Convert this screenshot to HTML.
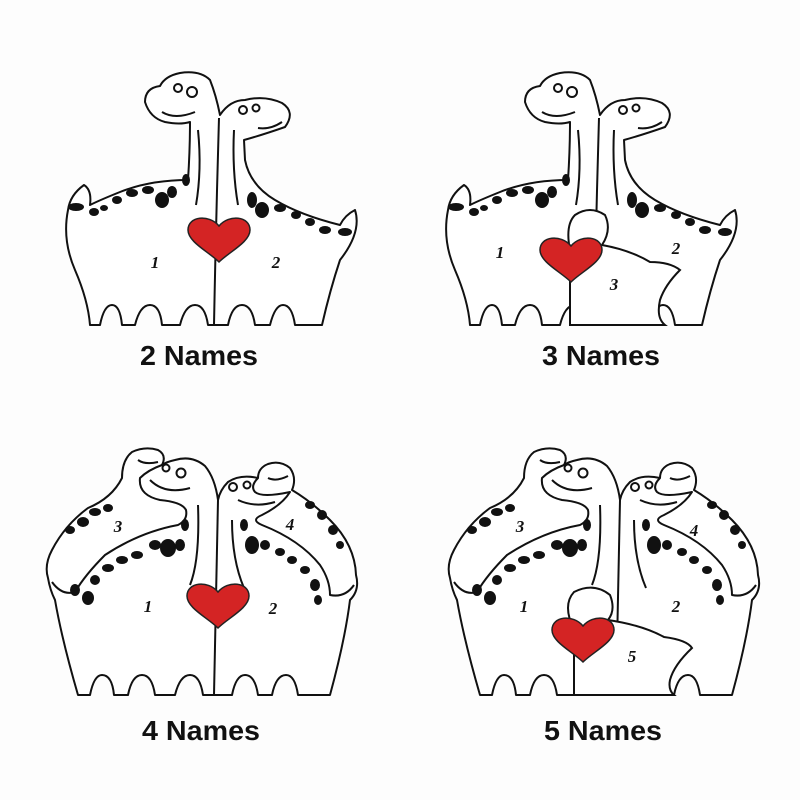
<!DOCTYPE html>
<html><head><style>
html,body{margin:0;padding:0;background:#fdfdfd;}
svg{display:block}
text.t{font-family:"Liberation Sans",sans-serif;font-weight:bold;font-size:28px;fill:#111;text-anchor:middle}
text.n{font-family:"Liberation Serif",serif;font-style:italic;font-weight:bold;font-size:17px;fill:#111;text-anchor:middle}
</style></head><body>
<svg width="800" height="800" viewBox="0 0 800 800">
<defs>
<g id="pair" fill="none" stroke="#111" stroke-width="2" stroke-linejoin="round">
<path fill="#fff" d="M 90,325 L 100,325 Q 104,305 112,305 Q 120,305 122,325 L 135,325 Q 140,305 150,305 Q 160,305 162,325 L 180,325 Q 185,305 195,305 Q 205,305 208,325 L 228,325 Q 232,305 242,305 Q 252,305 255,325 L 270,325 Q 275,305 283,305 Q 292,305 295,325 L 322,325 Q 330,290 340,260 Q 362,232 355,210 Q 345,215 340,225 Q 300,215 275,200 Q 250,185 245,160 L 244,140 Q 262,135 285,127 Q 296,112 282,103 Q 265,95 245,100 Q 230,100 220,115 Q 216,95 210,80 Q 200,70 180,73 Q 165,76 160,86 Q 145,88 145,102 Q 150,118 165,122 Q 180,125 190,122 Q 190,150 188,180 Q 150,180 120,192 Q 100,200 90,205 Q 92,190 84,185 Q 70,195 68,210 Q 62,240 75,270 Q 88,300 90,325 Z"/>
<path d="M219,118 Q 216,220 214,325"/>
<path d="M198,130 Q 202,170 196,205"/>
<path d="M234,130 Q 232,170 238,205"/>
<path d="M162,112 Q 175,120 195,112"/>
<path d="M258,128 Q 270,130 282,122"/>
<circle cx="178" cy="88" r="4"/><circle cx="192" cy="92" r="5"/>
<circle cx="243" cy="110" r="4"/><circle cx="256" cy="108" r="3.5"/>
</g>
<g id="spotsL" fill="#111">
<ellipse cx="76" cy="207" rx="8" ry="4"/><ellipse cx="94" cy="212" rx="5" ry="4"/><ellipse cx="104" cy="208" rx="4" ry="3"/>
<ellipse cx="117" cy="200" rx="5" ry="4"/><ellipse cx="132" cy="193" rx="6" ry="4"/><ellipse cx="148" cy="190" rx="6" ry="4"/>
<ellipse cx="162" cy="200" rx="7" ry="8"/><ellipse cx="172" cy="192" rx="5" ry="6"/><ellipse cx="186" cy="180" rx="4" ry="6"/>
</g>
<g id="spotsR" fill="#111">
<ellipse cx="252" cy="200" rx="5" ry="8"/><ellipse cx="262" cy="210" rx="7" ry="8"/><ellipse cx="280" cy="208" rx="6" ry="4"/>
<ellipse cx="296" cy="215" rx="5" ry="4"/><ellipse cx="310" cy="222" rx="5" ry="4"/><ellipse cx="325" cy="230" rx="6" ry="4"/><ellipse cx="345" cy="232" rx="7" ry="4"/>
</g>
<g id="quad" fill="none" stroke="#111" stroke-width="2" stroke-linejoin="round">
<path fill="#fff" d="M78,695 L90,695 Q 94,675 102,675 Q 112,675 114,695 L 128,695 Q 132,675 142,675 Q 152,675 155,695 L 175,695 Q 180,675 190,675 Q 200,675 203,695 L 232,695 Q 236,675 245,675 Q 255,675 258,695 L 272,695 Q 276,675 286,675 Q 295,675 298,695 L 330,695 Q 345,640 350,600 Q 360,590 356,575 Q 355,545 330,520 Q 312,502 292,490 Q 297,478 290,468 Q 280,460 268,464 Q 258,468 258,478 Q 240,474 228,482 Q 220,490 218,500 Q 215,478 205,466 Q 192,455 175,460 Q 166,462 162,465 Q 167,455 158,450 Q 145,446 132,452 Q 122,460 122,478 Q 112,498 88,508 Q 65,525 52,550 Q 44,565 48,578 Q 50,590 55,600 Q 62,640 78,695 Z"/>
<path d="M162,465 Q 148,470 140,478 Q 138,495 160,500 Q 182,502 186,510 Q 188,520 178,525 Q 140,532 105,555 Q 85,575 75,592 Q 62,596 52,582"/>
<path d="M258,478 Q 250,486 255,492 Q 262,498 290,492 Q 282,505 262,515 Q 250,520 262,525 Q 300,540 320,565 Q 330,580 330,595 Q 345,598 354,585"/>
<path d="M218,500 Q 216,600 214,695"/>
<path d="M198,505 Q 200,560 190,585"/>
<path d="M232,520 Q 232,560 244,588"/>
<path d="M150,480 Q 165,495 190,488"/>
<path d="M238,500 Q 255,508 275,502"/>
<path d="M138,460 Q 145,465 158,462"/>
<path d="M268,478 Q 276,482 288,476"/>
<circle cx="166" cy="468" r="3.5"/><circle cx="181" cy="473" r="4.5"/>
<circle cx="233" cy="487" r="4"/><circle cx="247" cy="485" r="3.5"/>
</g>
<g id="qspots" fill="#111">
<ellipse cx="75" cy="590" rx="5" ry="6"/><ellipse cx="88" cy="598" rx="6" ry="7"/><ellipse cx="95" cy="580" rx="5" ry="5"/>
<ellipse cx="108" cy="568" rx="6" ry="4"/><ellipse cx="122" cy="560" rx="6" ry="4"/><ellipse cx="137" cy="555" rx="6" ry="4"/>
<ellipse cx="155" cy="545" rx="6" ry="5"/><ellipse cx="168" cy="548" rx="8" ry="9"/><ellipse cx="180" cy="545" rx="5" ry="6"/><ellipse cx="185" cy="525" rx="4" ry="6"/>
<ellipse cx="70" cy="530" rx="5" ry="4"/><ellipse cx="83" cy="522" rx="6" ry="5"/><ellipse cx="95" cy="512" rx="6" ry="4"/><ellipse cx="108" cy="508" rx="5" ry="4"/>
<ellipse cx="244" cy="525" rx="4" ry="6"/><ellipse cx="252" cy="545" rx="7" ry="9"/><ellipse cx="265" cy="545" rx="5" ry="5"/>
<ellipse cx="280" cy="552" rx="5" ry="4"/><ellipse cx="292" cy="560" rx="5" ry="4"/><ellipse cx="305" cy="570" rx="5" ry="4"/><ellipse cx="315" cy="585" rx="5" ry="6"/><ellipse cx="318" cy="600" rx="4" ry="5"/>
<ellipse cx="310" cy="505" rx="5" ry="4"/><ellipse cx="322" cy="515" rx="5" ry="5"/><ellipse cx="333" cy="530" rx="5" ry="5"/><ellipse cx="340" cy="545" rx="4" ry="4"/>
</g>
<path id="heart" d="M0,20 C -10,10 -31,0 -31,-12 C -31,-26 -10,-28 0,-16 C 10,-28 31,-26 31,-12 C 31,0 10,10 0,20 Z" fill="#d42424" stroke="#222" stroke-width="1.5"/>
</defs>

<use href="#pair"/><use href="#spotsL"/><use href="#spotsR"/>
<use href="#heart" x="219" y="242"/>
<text class="n" x="155" y="268">1</text><text class="n" x="276" y="268">2</text>
<text class="t" x="199" y="365" textLength="118" lengthAdjust="spacingAndGlyphs">2 Names</text>

<g transform="translate(380,0)">
<use href="#pair"/><use href="#spotsL"/><use href="#spotsR"/>
<g fill="#fff" stroke="#111" stroke-width="2">
<path d="M190,325 L190,250 Q 185,225 195,215 Q 210,205 225,215 Q 232,230 222,245 Q 250,250 270,262 Q 290,262 300,270 Q 285,285 280,300 Q 276,318 285,325 Z"/>
</g>
<use href="#heart" x="191" y="262"/>
<text class="n" x="120" y="258">1</text><text class="n" x="296" y="254">2</text><text class="n" x="234" y="290">3</text>
</g>
<text class="t" x="601" y="365" textLength="118" lengthAdjust="spacingAndGlyphs">3 Names</text>

<use href="#quad"/><use href="#qspots"/>
<use href="#heart" x="218" y="608"/>
<text class="n" x="148" y="612">1</text><text class="n" x="273" y="614">2</text><text class="n" x="118" y="532">3</text><text class="n" x="290" y="530">4</text>
<text class="t" x="201" y="740" textLength="118" lengthAdjust="spacingAndGlyphs">4 Names</text>

<g transform="translate(402,0)">
<use href="#quad"/><use href="#qspots"/>
<g fill="#fff" stroke="#111" stroke-width="2">
<path d="M172,695 L172,630 Q 160,605 172,592 Q 192,582 208,595 Q 214,610 206,620 Q 240,625 262,637 Q 285,640 290,648 Q 272,665 268,680 Q 266,690 272,695 Z"/>
</g>
<use href="#heart" x="181" y="642"/>
<text class="n" x="122" y="612">1</text><text class="n" x="274" y="612">2</text><text class="n" x="118" y="532">3</text><text class="n" x="292" y="536">4</text><text class="n" x="230" y="662">5</text>
</g>
<text class="t" x="603" y="740" textLength="118" lengthAdjust="spacingAndGlyphs">5 Names</text>
</svg>
</body></html>
